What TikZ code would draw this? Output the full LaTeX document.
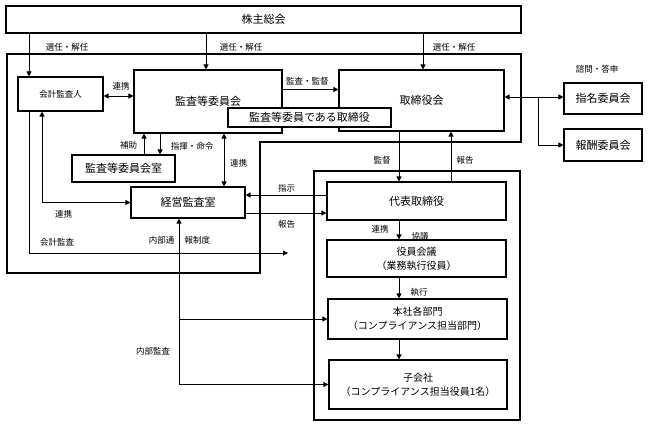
\documentclass[tikz,border=0pt]{standalone}
\usepackage{fontspec}
\setmainfont{Noto Sans CJK JP}
\usetikzlibrary{arrows.meta}
\tikzset{
  box/.style={draw, line width=1.1pt, fill=white, inner sep=0pt, align=center, font=\fontsize{11}{13}\selectfont},
  boxs/.style={box, font=\fontsize{10}{14}\selectfont},
  lbl/.style={inner sep=0pt, font=\fontsize{8.5}{10}\selectfont},
  outline/.style={draw, line width=2pt},
  arr/.style={line width=1pt, -{Triangle[length=5pt,width=5pt]}},
  arrs/.style={line width=1pt, {Triangle[length=5pt,width=5pt]}-{Triangle[length=5pt,width=5pt]}},
}
\begin{document}
\begin{tikzpicture}[x=1pt,y=-1pt]
\useasboundingbox (0,0) rectangle (648,426);
% thick outlines
\draw[outline] (7,54) -- (521,54) -- (521,142) -- (260,142) -- (260,273) -- (7,273) -- cycle;
\draw[outline] (314,171) rectangle (520,420);
% helper coordinates
\coordinate (xA) at (29,0);
\coordinate (xB) at (42,0);
\coordinate (xC) at (206,0);
\coordinate (xD) at (423,0);
\coordinate (xE) at (144,0);
\coordinate (xF) at (160,0);
\coordinate (xG) at (224,0);
\coordinate (xH) at (399,0);
\coordinate (xI) at (451,0);
\coordinate (xJ) at (538,0);
\coordinate (xK) at (179,0);
\coordinate (yA) at (0,89.5);
\coordinate (yB) at (0,97);
\coordinate (yC) at (0,96);
\coordinate (yD) at (0,195);
\coordinate (yE) at (0,213);
\coordinate (yG) at (0,253);
\coordinate (gEnd) at (288,253);
% nodes
\node[box, minimum width=515, minimum height=27] (kabu) at (263.5,19.5) {株主総会};
\node[box, font=\fontsize{8.5}{10}\selectfont, minimum width=85, minimum height=34] (kaikei) at (60.5,94) {会計監査人};
\node[box, minimum width=148, minimum height=63] (kansa) at (208,101.5) {監査等委員会};
\node[box, minimum width=165, minimum height=61] (tori) at (421.5,100.5) {取締役会};
\node[box, minimum width=78, minimum height=31] (shimei) at (603,98.5) {指名委員会};
\node[box, minimum width=78, minimum height=32] (housyu) at (603,145) {報酬委員会};
\node[box, minimum width=103, minimum height=27] (shitsu) at (123.5,168.5) {監査等委員会室};
\node[box, minimum width=114, minimum height=31] (keiei) at (188,202.5) {経営監査室};
\node[box, minimum width=179, minimum height=38] (daihyo) at (416.5,201) {代表取締役};
\node[boxs, minimum width=179, minimum height=37] (yakuin) at (416.5,258.5) {役員会議\\（業務執行役員）};
\node[boxs, minimum width=179, minimum height=40] (honsha) at (417.5,319) {本社各部門\\（コンプライアンス担当部門）};
\node[boxs, minimum width=178, minimum height=49] (kogaisha) at (418,384.5) {子会社\\（コンプライアンス担当役員1名）};
% connectors
\draw[arr] (kabu.south -| xA) -- (kaikei.north -| xA);
\draw[arr] (kabu.south -| xC) -- (kansa.north -| xC);
\draw[arr] (kabu.south -| xD) -- (tori.north -| xD);
\draw[arrs] (kaikei.east |- yC) -- (kansa.west |- yC);
\draw[arr] (kansa.east |- yA) -- (tori.west |- yA);
\draw[arrs] (tori.east |- yB) -- (shimei.west |- yB);
\draw[arr] (xJ |- yB) -- (xJ |- housyu.west) -- (housyu.west);
\draw[arr] (shitsu.north -| xE) -- (kansa.south -| xE);
\draw[arr] (kansa.south -| xF) -- (shitsu.north -| xF);
\draw[arrs] (kansa.south -| xG) -- (keiei.north -| xG);
\draw[arrs] (kaikei.south -| xB) -- (xB |- keiei.west) -- (keiei.west);
\draw[arr] (kaikei.south -| xA) -- (xA |- yG) -- (gEnd);
\draw[arr] (xK |- kogaisha.west) -- (keiei.south -| xK);
\draw[arr] (xK |- honsha.west) -- (honsha.west);
\draw[arr] (xK |- kogaisha.west) -- (kogaisha.west);
\draw[arr] (daihyo.west |- yD) -- (keiei.east |- yD);
\draw[arr] (keiei.east |- yE) -- (daihyo.west |- yE);
\draw[arr] (tori.south -| xH) -- (daihyo.north -| xH);
\draw[arr] (daihyo.north -| xI) -- (tori.south -| xI);
\draw[arr] (daihyo.south -| xH) -- (yakuin.north -| xH);
\draw[arr] (yakuin.south -| xH) -- (honsha.north -| xH);
\draw[arr] (honsha.south -| xH) -- (kogaisha.north -| xH);
% overlapping box
\node[box, minimum width=163, minimum height=19] (kansatori) at (309.5,117.5) {監査等委員である取締役};
% labels
\node[lbl] (l1) at (67,47) {選任・解任};
\node[lbl] (l2) at (241,47) {選任・解任};
\node[lbl] (l3) at (454,47) {選任・解任};
\node[lbl] (l4) at (121,86) {連携};
\node[lbl, anchor=west] (l5) at (286,81) {監査・監督};
\node[lbl] (l6) at (597,69) {諮問・答申};
\node[lbl] (l7) at (128.5,145) {補助};
\node[lbl] (l8) at (192,146) {指揮・命令};
\node[lbl] (l9) at (238.5,163) {連携};
\node[lbl] (l10) at (63.5,214) {連携};
\node[lbl] (l11) at (57,242) {会計監査};
\node[lbl, anchor=east] (l12) at (174.5,240) {内部通};
\node[lbl, anchor=west] (l13) at (184.5,240) {報制度};
\node[lbl] (l14) at (286.5,188) {指示};
\node[lbl] (l15) at (286.5,224) {報告};
\node[lbl] (l16) at (382,160) {監督};
\node[lbl] (l17) at (465,160) {報告};
\node[lbl] (l18) at (380,229) {連携};
\node[lbl] (l19) at (420,236) {協議};
\node[lbl] (l20) at (419,292) {執行};
\node[lbl] (l21) at (153,351) {内部監査};
\end{tikzpicture}
\end{document}
